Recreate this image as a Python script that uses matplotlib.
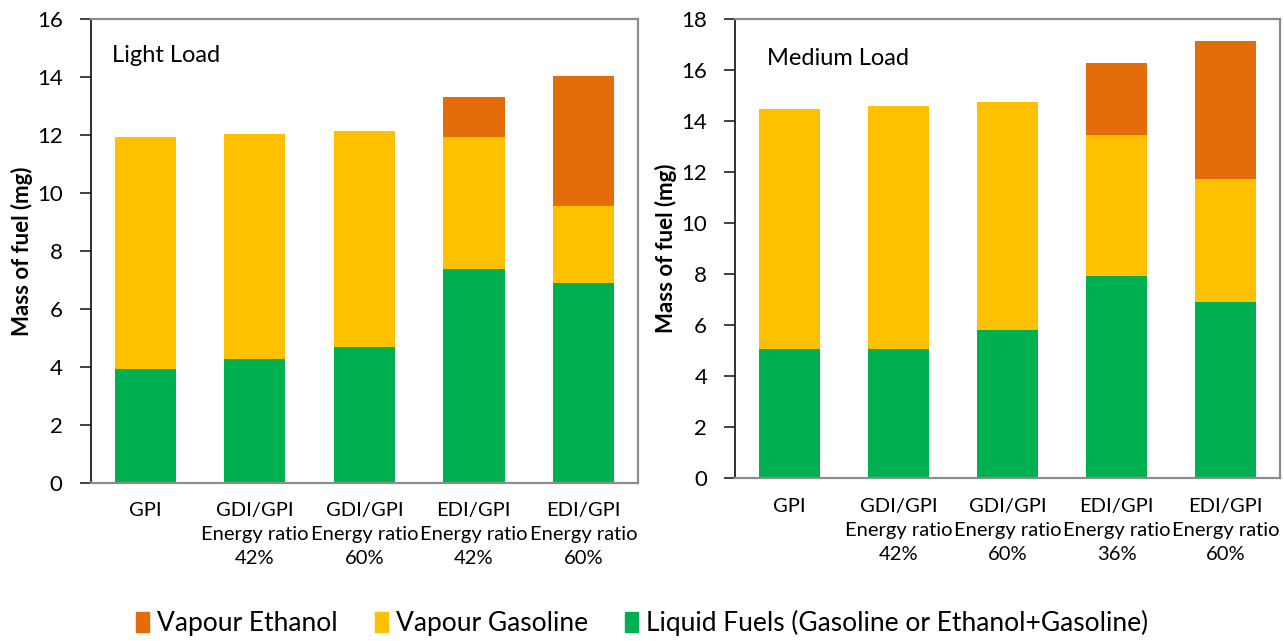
import matplotlib
matplotlib.use("Agg")
import matplotlib.pyplot as plt
from matplotlib.patches import Patch
import numpy as np

plt.rcParams['font.family'] = ['Lato', 'DejaVu Sans']

# Light load
light_labels = ["GPI", "GDI/GPI\nEnergy ratio\n42%", "GDI/GPI\nEnergy ratio\n60%",
                "EDI/GPI\nEnergy ratio\n42%", "EDI/GPI\nEnergy ratio\n60%"]
light_liquid = [3.93, 4.28, 4.69, 7.38, 6.90]
light_vap_gasoline = [8.00, 7.75, 7.45, 4.55, 2.65]
light_vap_ethanol = [0.0, 0.0, 0.0, 1.38, 4.48]

# Medium load
medium_labels = ["GPI", "GDI/GPI\nEnergy ratio\n42%", "GDI/GPI\nEnergy ratio\n60%",
                 "EDI/GPI\nEnergy ratio\n36%", "EDI/GPI\nEnergy ratio\n60%"]
medium_liquid = [5.05, 5.06, 5.80, 7.92, 6.90]
medium_vap_gasoline = [9.42, 9.53, 8.95, 5.53, 4.83]
medium_vap_ethanol = [0.0, 0.0, 0.0, 2.82, 5.41]

series_names = ["Vapour Ethanol", "Vapour Gasoline",
                "Liquid Fuels (Gasoline or Ethanol+Gasoline)"]
c_green = "#00B050"
c_yellow = "#FFC000"
c_orange = "#E46C0A"

fig = plt.figure(figsize=(12.84, 6.41), dpi=100)
ax1 = fig.add_axes([0.0705, 0.2465, 0.4265, 0.7235])
ax2 = fig.add_axes([0.5724, 0.254, 0.4246, 0.716])


def draw(ax, labels, liquid, vgas, veth, ymax, title, tx, ty):
    x = np.arange(len(labels))
    liquid = np.array(liquid)
    vgas = np.array(vgas)
    veth = np.array(veth)
    w = 0.56
    ax.bar(x, liquid, w, color=c_green, zorder=2)
    ax.bar(x, vgas, w, bottom=liquid, color=c_yellow, zorder=2)
    ax.bar(x, veth, w, bottom=liquid + vgas, color=c_orange, zorder=2)
    ax.set_xlim(-0.5, len(labels) - 0.5)
    ax.set_ylim(0, ymax)
    ax.set_yticks(np.arange(0, ymax + 1, 2))
    ax.set_xticks(x)
    ax.set_xticklabels(labels, fontsize=14.5, linespacing=1.5)
    ax.tick_params(axis='x', length=0, pad=14)
    ax.tick_params(axis='y', labelsize=16, length=8, width=1.2, pad=12,
                   direction='out', color="#202020")
    ax.set_ylabel("Mass of fuel (mg)", fontsize=16, fontweight='bold', labelpad=3)
    for side in ("top", "right", "bottom"):
        ax.spines[side].set_color("#8c8c8c")
        ax.spines[side].set_linewidth(1.6)
    ax.spines["left"].set_color("#202020")
    ax.spines["left"].set_linewidth(1.3)
    ax.text(tx, ty, title, transform=ax.transAxes, fontsize=17, va='center', ha='left')


draw(ax1, light_labels, light_liquid, light_vap_gasoline, light_vap_ethanol, 16,
     "Light Load", 0.04, 0.922)
draw(ax2, medium_labels, medium_liquid, medium_vap_gasoline, medium_vap_ethanol, 18,
     "Medium Load", 0.059, 0.915)

handles = [Patch(color=c_orange), Patch(color=c_yellow), Patch(color=c_green)]
fig.legend(handles, series_names, loc='lower center', bbox_to_anchor=(0.5, -0.03),
           ncol=3, frameon=False, fontsize=19, handlelength=0.5, handleheight=0.8,
           handletextpad=0.3, columnspacing=1.4)

fig.savefig("out.png", dpi=100)
